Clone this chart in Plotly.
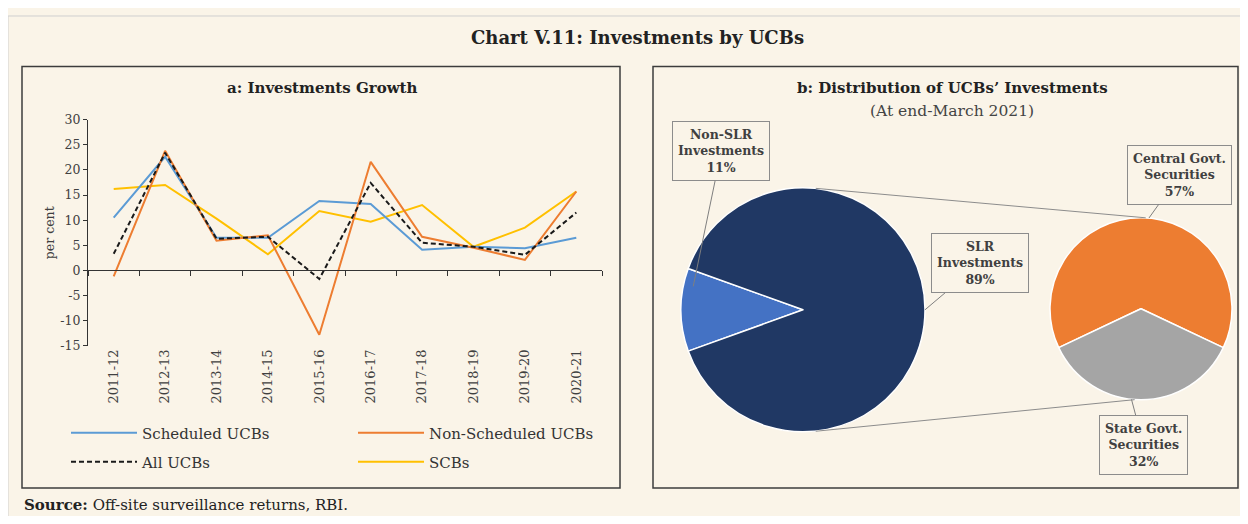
import math
import plotly.graph_objects as go

# the page keeps the browser's 8px body margin, so the figure is drawn
# 16px smaller than the 1248x524 window and everything is offset by 8px
OFF = 8
W, H = 1248 - 2 * OFF, 524 - 2 * OFF
# measured vertical placement of the photographed page: shot_y = Y0 + SY * y
Y0, SY = 7.75, 0.9695

# panel a: investments growth (per cent)
years = ["2011-12", "2012-13", "2013-14", "2014-15", "2015-16",
         "2016-17", "2017-18", "2018-19", "2019-20", "2020-21"]
scheduled = [10.5, 22.6, 6.5, 6.5, 13.8, 13.2, 4.1, 4.7, 4.4, 6.5]
non_scheduled = [-1.2, 23.8, 5.9, 7.0, -12.8, 21.6, 6.7, 4.5, 2.1, 15.7]
all_ucbs = [3.3, 23.4, 6.3, 6.7, -1.7, 17.4, 5.5, 4.7, 3.1, 11.5]
scbs = [16.2, 17.0, 10.3, 3.2, 11.8, 9.7, 13.0, 4.7, 8.5, 15.7]
y_ticks = [-15, -10, -5, 0, 5, 10, 15, 20, 25, 30]

# panel b: distribution of investments (per cent of total)
main_labels = ["Non-SLR<br>Investments", "SLR<br>Investments"]
main_values = [11, 89]
split_labels = ["Central Govt.<br>Securities", "State Govt.<br>Securities"]
split_values = [57, 32]

CREAM = "#FAF4E8"
FONT = "DejaVu Serif"


def px(x, y):
    """target pixel position in the picture -> paper coords"""
    yy = (y - Y0) / SY
    return (x - OFF) / W, 1 - (yy - OFF) / H


# layout geometry (target pixels)
line_box = (88, 602, 119, 345)
main_c, main_r = (803, 309), 122
split_c, split_r = (1141, 308), 91


def pie_domain(c, r):
    x0, y0 = px(c[0] - r, c[1] + r)
    x1, y1 = px(c[0] + r, c[1] - r)
    return dict(x=[x0, x1], y=[y0, y1])


def on_circle(c, r, ang, frac=1.0):
    # ang in degrees, clockwise from 12 o'clock
    a = math.radians(ang)
    return c[0] + frac * r * math.sin(a), c[1] - frac * r * math.cos(a)


fig = go.Figure()

series = [
    ("Scheduled UCBs", scheduled, "#5B9BD5", "solid", "legend"),
    ("Non-Scheduled UCBs", non_scheduled, "#ED7D31", "solid", "legend"),
    ("All UCBs", all_ucbs, "#1a1a1a", "5px,3px", "legend2"),
    ("SCBs", scbs, "#FFC000", "solid", "legend2"),
]
# draw order: yellow, blue, orange, dashed on top
for idx in [3, 0, 1, 2]:
    name, vals, col, dash, leg = series[idx]
    fig.add_trace(go.Scatter(
        x=years, y=vals, name=name, mode="lines",
        line=dict(color=col, width=2, dash=dash),
        legend=leg, legendrank=idx,
    ))

# helper trace so the zero-line axis (ticks on boundaries) gets drawn
fig.add_trace(go.Scatter(x=years, y=[None] * len(years), xaxis="x2",
                         showlegend=False, hoverinfo="skip"))

main_rot = 270 - main_values[0] / sum(main_values) * 360 / 2
fig.add_trace(go.Pie(
    labels=[l.replace("<br>", " ") for l in main_labels], values=main_values,
    sort=False, direction="clockwise", rotation=main_rot,
    marker=dict(colors=["#4472C4", "#203864"], line=dict(color="white", width=1.5)),
    textinfo="none", showlegend=False, domain=pie_domain(main_c, main_r),
))
split_rot = 180 + split_values[1] / sum(split_values) * 360 / 2
fig.add_trace(go.Pie(
    labels=[l.replace("<br>", " ") for l in split_labels], values=split_values,
    sort=False, direction="clockwise", rotation=split_rot,
    marker=dict(colors=["#ED7D31", "#A5A5A5"], line=dict(color="white", width=1.5)),
    textinfo="none", showlegend=False, domain=pie_domain(split_c, split_r),
))

dx0, dy0 = px(line_box[0], line_box[3])
dx1, dy1 = px(line_box[1], line_box[2])
zero_pos = dy0 + 15 / 45 * (dy1 - dy0)

shapes = []
# thin frame around the cream page, and the two panel boxes
shapes.append(dict(type="rect", xref="paper", yref="paper", layer="below",
                   x0=0, x1=1.02, y0=-0.05, y1=1,
                   line=dict(color="#cfcfcf", width=1)))
for x0, x1 in [(22, 620), (653, 1238)]:
    a, b = px(x0, 66)
    c, d = px(x1, 487)
    shapes.append(dict(type="rect", xref="paper", yref="paper",
                       x0=a, y0=d, x1=c, y1=b,
                       line=dict(color="#3c3c3c", width=1.5)))

# pie-of-pie connectors
for ang_m, ang_s in [(6, 3), (174, 184)]:
    p0 = on_circle(main_c, main_r, ang_m)
    p1 = on_circle(split_c, split_r, ang_s)
    a, b = px(*p0)
    c, d = px(*p1)
    shapes.append(dict(type="line", xref="paper", yref="paper",
                       x0=a, y0=b, x1=c, y1=d,
                       line=dict(color="#8c8c8c", width=1)))

annotations = []


def txt(x, y, text, size, color="#222", xanchor="center"):
    a, b = px(x, y)
    annotations.append(dict(x=a, y=b, xref="paper", yref="paper", text=text,
                            showarrow=False, xanchor=xanchor, yanchor="middle",
                            font=dict(family=FONT, size=size, color=color)))


txt(637, 37, "<b>Chart V.11: Investments by UCBs</b>", 18)
txt(322, 87, "<b>a: Investments Growth</b>", 15)
txt(952, 87, "<b>b: Distribution of UCBs’ Investments</b>", 15)
txt(952, 110, "(At end-March 2021)", 15.5, color="#444")
txt(22, 504, "<b>Source:</b> Off-site surveillance returns, RBI.", 15,
    xanchor="left")


def callout(pt, off, label, val):
    a, b = px(*pt)
    annotations.append(dict(
        x=a, y=b, xref="paper", yref="paper", ax=off[0], ay=off[1] / SY,
        text=f"<b>{label}<br>{val}%</b>", showarrow=True, arrowhead=0,
        arrowwidth=1, arrowcolor="#7f7f7f", standoff=0,
        bordercolor="#8c8c8c", borderwidth=1, borderpad=5, bgcolor=CREAM,
        font=dict(family=FONT, size=12.5, color="#404040"),
    ))


callout(on_circle(main_c, main_r, 282, 0.92), (28, -131), main_labels[0], main_values[0])
callout(on_circle(main_c, main_r, 90), (55, -45), main_labels[1], main_values[1])
callout(on_circle(split_c, split_r, 5), (31, -42), split_labels[0], split_values[0])
callout(on_circle(split_c, split_r, 186), (12, 44), split_labels[1], split_values[1])

axis_font = dict(family=FONT, size=12.5, color="#404040")
legend_common = dict(orientation="h", xanchor="left", yanchor="middle",
                     bgcolor="rgba(0,0,0,0)", entrywidth=206,
                     font=dict(family=FONT, size=15, color="#333"),
                     itemwidth=66, tracegroupgap=0)

fig.update_layout(
    width=W, height=H, autosize=False,
    margin=dict(l=0, r=0, t=0, b=0),
    paper_bgcolor=CREAM, plot_bgcolor=CREAM,
    showlegend=True,
    xaxis=dict(domain=[dx0, dx1], type="category", categoryarray=years,
               range=[-0.5, 9.5], showline=False, showgrid=False, ticks="",
               tickangle=-90, tickfont=dict(family=FONT, size=13, color="#404040"),
               anchor="y"),
    xaxis2=dict(overlaying="x", type="category", categoryarray=years,
                range=[-0.5, 9.5], anchor="free", position=zero_pos,
                showline=True, linecolor="#333", linewidth=1,
                ticks="outside", ticklen=5, tickcolor="#333",
                tickson="boundaries", showticklabels=False, showgrid=False),
    yaxis=dict(domain=[dy0, dy1], range=[-15, 30],
               tickvals=y_ticks, ticktext=[str(v) for v in y_ticks],
               showline=True, linecolor="#333", linewidth=1,
               ticks="outside", ticklen=4, tickcolor="#333",
               showgrid=False, zeroline=False, tickfont=axis_font,
               title=dict(text="per cent", font=dict(family=FONT, size=12.5, color="#404040"),
                          standoff=2)),
    legend=dict(x=px(66, 0)[0], y=px(0, 432)[1], **legend_common),
    legend2=dict(x=px(66, 0)[0], y=px(0, 461)[1], **legend_common),
    shapes=shapes,
    annotations=annotations,
)

fig.write_html("out.html", config=dict(displayModeBar=False))
